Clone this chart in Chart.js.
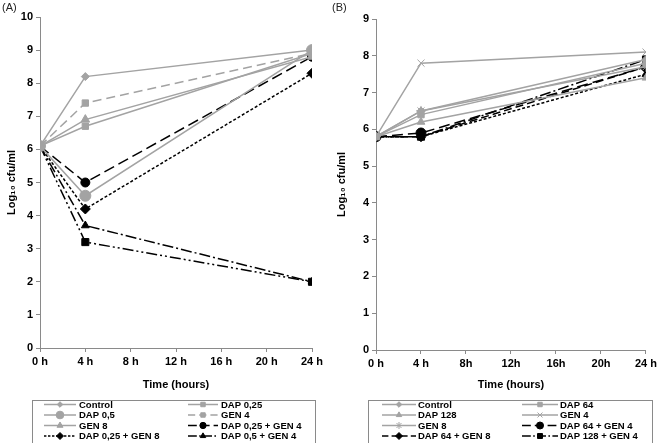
<!DOCTYPE html>
<html><head><meta charset="utf-8">
<script src="https://cdn.jsdelivr.net/npm/chart.js@4.4.1/dist/chart.umd.min.js"></script>
<style>
body{margin:0;background:#fff;width:660px;height:443px;overflow:hidden;position:relative}
.p{position:absolute;top:0;width:330px;height:443px}
</style></head><body>
<div class="p" style="left:0"><canvas id="ca" width="330" height="443"></canvas></div>
<div class="p" style="left:330px"><canvas id="cb" width="330" height="443"></canvas></div>
<script>
// ---- data ----
const timesH = [0, 4, 24];
const ticksA = ['0 h','4 h','8 h','12 h','16 h','20 h','24 h'];
const ticksB = ['0 h','4 h','8h','12h','16h','20h','24 h'];
const xTitle = 'Time (hours)';
const yTitle = 'Log\u2081\u2080 cfu/ml';

// Panel A
const namesA = ['Control','DAP 0,25','DAP 0,5','GEN 4','GEN 8','DAP 0,25 + GEN 4','DAP 0,25 + GEN 8','DAP 0,5 + GEN 4','DAP 0,5 + GEN 8'];
const a_control   = [6.1, 8.2, 9.0];
const a_dap025    = [6.1, 6.7, 8.9];
const a_dap05     = [6.1, 4.6, 9.0];
const a_gen4      = [6.1, 7.4, 8.9];
const a_gen8      = [6.1, 6.9, 8.8];
const a_dap025g4  = [6.1, 5.0, 8.8];
const a_dap025g8  = [6.1, 4.2, 8.3];
const a_dap05g4   = [6.1, 3.7, 2.0];
const a_dap05g8   = [6.1, 3.2, 2.0];
const legendCountA = 8;

// Panel B
const namesB = ['Control','DAP 64','DAP 128','GEN 4','GEN 8','DAP 64 + GEN 4','DAP 64 + GEN 8','DAP 128 + GEN 4','DAP 128 + GEN 8'];
const b_control   = [5.8, 6.5, 7.9];
const b_dap64     = [5.8, 6.4, 7.8];
const b_dap128    = [5.8, 6.2, 7.4];
const b_gen4      = [5.8, 7.8, 8.1];
const b_gen8      = [5.8, 6.5, 7.7];
const b_dap64g4   = [5.8, 5.9, 7.7];
const b_dap64g8   = [5.8, 5.8, 7.7];
const b_dap128g4  = [5.8, 5.8, 7.9];
const b_dap128g8  = [5.8, 5.8, 7.5];
const legendCountB = 8;

// ---- styles ----
const GRAY = '#a3a3a3', BLACK = '#000000';
function pts(vals){ return vals.map((v,i)=>({x: timesH[i], y: v})); }
function ds(label, vals, color, style, radius, dash){
  return {label, data: pts(vals), borderColor: color, backgroundColor: color,
    pointStyle: style, pointRadius: radius, pointBorderWidth: 1, pointHoverRadius: radius,
    borderWidth: 1.5, borderDash: dash || [], tension: 0, fill: false};
}
const dataA = [
  ds(namesA[0], a_control, GRAY, 'rectRot', 4, []),
  ds(namesA[1], a_dap025, GRAY, 'rect', 4.5, []),
  ds(namesA[2], a_dap05, GRAY, 'circle', 5.5, []),
  ds(namesA[3], a_gen4, GRAY, 'rect', 4.5, [9,5]),
  ds(namesA[4], a_gen8, GRAY, 'triangle', 5, []),
  ds(namesA[5], a_dap025g4, BLACK, 'circle', 4.5, [11,5]),
  ds(namesA[6], a_dap025g8, BLACK, 'rectRot', 5, [3,2]),
  ds(namesA[7], a_dap05g4, BLACK, 'triangle', 4.5, [11,3,2,3]),
  ds(namesA[8], a_dap05g8, BLACK, 'rect', 5, [11,3,2,3,2,3]),
];
const dataB = [
  ds(namesB[0], b_control, GRAY, 'rectRot', 4, []),
  ds(namesB[1], b_dap64, GRAY, 'rect', 4.5, []),
  ds(namesB[2], b_dap128, GRAY, 'triangle', 4.5, []),
  ds(namesB[3], b_gen4, GRAY, 'crossRot', 5, []),
  ds(namesB[4], b_gen8, GRAY, 'star', 5, []),
  ds(namesB[5], b_dap64g4, BLACK, 'circle', 5, [11,5]),
  ds(namesB[6], b_dap64g8, BLACK, 'rectRot', 5, [8,4]),
  ds(namesB[7], b_dap128g4, BLACK, 'rect', 5, [11,3,2,3]),
  ds(namesB[8], b_dap128g8, BLACK, 'triangle', 4.5, [3,2]),
];

// ---- plugins ----
const extrasPlugin = {
  id: 'extras',
  afterDraw(chart, args, opts){
    const ctx = chart.ctx;
    ctx.save();
    // panel label
    ctx.fillStyle = '#222';
    ctx.font = '11px "Liberation Sans", Arial, sans-serif';
    ctx.textBaseline = 'middle';
    ctx.textAlign = 'left';
    ctx.fillText(opts.panel, 2, 8);
    // legend box
    const L = opts.legend;
    ctx.strokeStyle = '#8a8a8a';
    ctx.lineWidth = 1;
    ctx.strokeRect(L.x + 0.5, L.y + 0.5, L.w, 60);
    ctx.font = 'bold 9.5px "Liberation Sans", Arial, sans-serif';
    const dsets = chart.data.datasets;
    for (let i = 0; i < L.count; i++){
      const d = dsets[i];
      const col = i % 2, row = Math.floor(i / 2);
      const y = L.rows[row];
      const x0 = L.cols[col][0], x1 = L.cols[col][1], tx = L.cols[col][2];
      ctx.strokeStyle = d.borderColor;
      ctx.fillStyle = d.backgroundColor;
      ctx.lineWidth = 1.5;
      ctx.setLineDash(d.borderDash && d.borderDash.length ? d.borderDash.map(v=>v*0.8) : []);
      ctx.beginPath(); ctx.moveTo(x0, y); ctx.lineTo(x1, y); ctx.stroke();
      ctx.setLineDash([]);
      ctx.lineWidth = 1;
      Chart.helpers.drawPoint(ctx, {pointStyle: d.pointStyle, radius: Math.max(2.5, d.pointRadius*0.7), rotation: 0, borderWidth: 1}, (x0+x1)/2, y);
      ctx.fillStyle = '#000';
      ctx.textBaseline = 'middle';
      ctx.fillText(d.label, tx, y + 0.5);
    }
    ctx.restore();
  }
};

function makeChart(id, datasets, yMax, tickLabels, lay){
  const tickFont = {family: '"Liberation Sans", Arial, sans-serif', size: 11, weight: 'bold'};
  return new Chart(document.getElementById(id), {
    type: 'line',
    data: {datasets},
    plugins: [extrasPlugin],
    options: {
      responsive: false, animation: false,
      layout: {padding: {left: 0, top: lay.top, right: lay.right, bottom: 43}},
      plugins: {legend: {display: false}, tooltip: {enabled: false},
        extras: {panel: lay.panel, legend: lay.legend}},
      scales: {
        x: {type: 'linear', min: 0, max: 24,
          afterBuildTicks: s => { s.ticks = tickLabels.map((t,i)=>({value: i*4})); },
          afterFit: s => { s.height = lay.xh; },
          ticks: {callback: (v,i) => tickLabels[i], font: tickFont, color: '#000', padding: 3, maxRotation: 0, autoSkip: false},
          grid: {drawOnChartArea: false, drawTicks: true, tickLength: 4, color: '#8a8a8a'},
          border: {color: '#8a8a8a', width: 1},
          title: {display: true, text: xTitle, font: {family: '"Liberation Sans", Arial, sans-serif', size: 11, weight: 'bold'}, color: '#000', padding: {top: 6, bottom: lay.tpad}}
        },
        y: {min: 0, max: yMax,
          afterFit: s => { s.width = lay.yw; },
          ticks: {stepSize: 1, font: tickFont, color: '#000', padding: 3},
          grid: {drawOnChartArea: false, drawTicks: true, tickLength: 4, color: '#8a8a8a'},
          border: {color: '#8a8a8a', width: 1},
          title: {display: true, text: yTitle, font: {family: '"Liberation Sans", Arial, sans-serif', size: 11, weight: 'bold'}, color: '#000', padding: {top: 5, bottom: 0}}
        }
      }
    }
  });
}

makeChart('ca', dataA, 10, ticksA, {panel: '(A)', top: 17, right: 18, yw: 40, xh: 52, tpad: 8,
  legend: {x: 32, y: 400, w: 283, count: legendCountA, rows: [404.5, 415, 425.5, 436],
    cols: [[44, 76, 79], [188, 218, 221]]}});
makeChart('cb', dataB, 9, ticksB, {panel: '(B)', top: 19, right: 11, yw: 46, xh: 50, tpad: 8,
  legend: {x: 38, y: 400, w: 284, count: legendCountB, rows: [404.5, 415, 425.5, 436],
    cols: [[52, 86, 88], [192, 228, 230]]}});
</script>
</body></html>
